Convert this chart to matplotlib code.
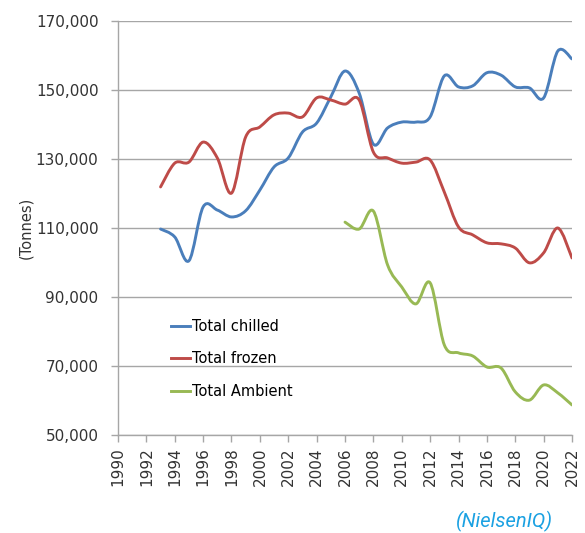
import numpy as np
import matplotlib
matplotlib.use("Agg")
import matplotlib.pyplot as plt
from matplotlib.path import Path
from matplotlib.patches import PathPatch
from matplotlib.lines import Line2D

# data (tonnes)
years_chilled = list(range(1993, 2023))
chilled = [109700, 107400, 100500, 116100, 115200, 113200, 115000, 121000, 127700, 130300,
           137800, 140400, 148000, 155500, 149100, 134300, 139000, 140700, 140700, 142200,
           154100, 150900, 151200, 155000, 154300, 150900, 150600, 147700, 161300, 159000]

years_frozen = list(range(1993, 2023))
frozen = [121900, 128800, 129100, 134900, 130300, 120100, 136400, 139300, 142800, 143300,
          142200, 147700, 147100, 145900, 147100, 132000, 130300, 128800, 129100, 129700,
          120400, 110300, 108000, 105700, 105400, 104200, 99900, 102800, 110000, 101300]

years_ambient = list(range(2006, 2023))
ambient = [111700, 109700, 114900, 99300, 92900, 88000, 94100, 76100, 73800, 72900,
           69700, 69400, 62500, 60100, 64500, 62200, 58700]

series_names = ["Total chilled", "Total frozen", "Total Ambient"]
colors = ["#4a7ebb", "#be4b48", "#98b954"]


def smooth_path(x, y):
    # excel style smoothed line: catmull-rom converted to cubic bezier segments
    p = np.column_stack([x, y]).astype(float)
    verts = [p[0]]
    codes = [Path.MOVETO]
    n = len(p)
    for i in range(n - 1):
        p0 = p[i - 1] if i > 0 else p[i]
        p3 = p[i + 2] if i + 2 < n else p[i + 1]
        c1 = p[i] + (p[i + 1] - p0) / 6
        c2 = p[i + 1] - (p3 - p[i]) / 6
        verts += [c1, c2, p[i + 1]]
        codes += [Path.CURVE4] * 3
    return Path(verts, codes)


fig = plt.figure(figsize=(5.85, 5.33), dpi=100)
ax = fig.add_axes([0.2017, 0.1839, 0.7761, 0.7767])

for xs, ys, c in zip([years_chilled, years_frozen, years_ambient],
                     [chilled, frozen, ambient], colors):
    patch = PathPatch(smooth_path(xs, ys), facecolor="none", edgecolor=c,
                      lw=2.1, capstyle="round", joinstyle="round")
    ax.add_patch(patch)

ax.set_xlim(1990, 2022)
ax.set_ylim(50000, 170000)
ax.set_xticks(range(1990, 2023, 2))
ax.set_xticklabels([str(y) for y in range(1990, 2023, 2)], rotation=90, fontsize=11)
ax.set_yticks(range(50000, 170001, 20000))
ax.set_yticklabels([f"{v:,}" for v in range(50000, 170001, 20000)], fontsize=11)
ax.yaxis.grid(True, color="#a6a6a6", lw=1.0)
ax.set_axisbelow(True)
for s in ["top", "right"]:
    ax.spines[s].set_visible(False)
for s in ["left", "bottom"]:
    ax.spines[s].set_color("#a6a6a6")
    ax.spines[s].set_linewidth(1.0)
ax.tick_params(axis="both", color="#a6a6a6", length=5, width=1.0, labelcolor="#333333")
ax.tick_params(axis="y", pad=9)
ax.tick_params(axis="x", pad=4)
ax.set_ylabel("(Tonnes)", fontsize=10.5, color="#333333")
ax.yaxis.set_label_coords(-0.187, 0.5)

handles = [Line2D([], [], color=c, lw=2.1) for c in colors]
ax.legend(handles, series_names, loc="upper left", bbox_to_anchor=(0.105, 0.295),
          frameon=False, fontsize=10.5, handlelength=1.3, handletextpad=0.1,
          labelspacing=1.2, borderaxespad=0)

fig.text(0.945, 0.0225, "(NielsenIQ)", color="#1ba1e2", fontsize=14.5,
         style="italic", family="Roboto", ha="right", va="center")

fig.savefig("out.png", dpi=100)
